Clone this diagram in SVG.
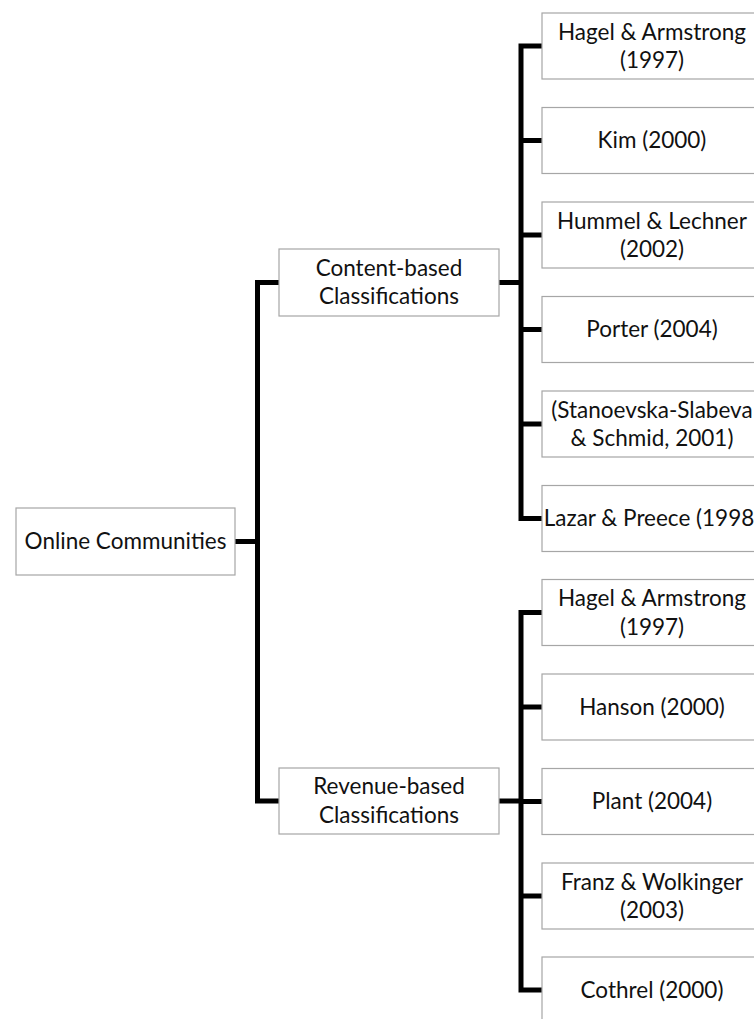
<svg xmlns="http://www.w3.org/2000/svg" width="754" height="1019" viewBox="0 0 754 1019">
  <style>
    .box { fill: #ffffff; stroke: #a6a6a6; stroke-width: 1.2; }
    .lbl { font-family: Lato, "Open Sans", "Liberation Sans", sans-serif; font-size: 22.5px; fill: #111111; text-anchor: middle; }
    .wire { fill: none; stroke: #000000; stroke-width: 5; stroke-linejoin: miter; stroke-linecap: butt; }
  </style>
  <rect width="754" height="1019" fill="#ffffff"/>

  <!-- connectors -->
  <g id="connectors">
    <!-- root to category spine -->
    <path class="wire" d="M235,541.5 H257.5"/>
    <path class="wire" d="M279,282.5 H257.5 V801 H279"/>
    <!-- content-based spine -->
    <path class="wire" d="M499,282.5 H521"/>
    <path class="wire" d="M542,46 H521 V518.5 H542"/>
    <path class="wire" d="M521,140.5 H542 M521,235 H542 M521,329.5 H542 M521,424 H542"/>
    <!-- revenue-based spine -->
    <path class="wire" d="M499,801 H521"/>
    <path class="wire" d="M542,612.5 H521 V990 H542"/>
    <path class="wire" d="M521,707 H542 M521,801.5 H542 M521,896 H542"/>
  </g>

  <!-- root -->
  <g id="online-communities">
    <rect class="box" x="16" y="508" width="219" height="67"/>
    <text class="lbl" x="125.5" y="549">Online Communities</text>
  </g>

  <!-- categories -->
  <g id="content-based">
    <rect class="box" x="279" y="249" width="220" height="67"/>
    <text class="lbl" x="389" y="275.5">Content-based</text>
    <text class="lbl" x="389" y="304">Classifications</text>
  </g>
  <g id="revenue-based">
    <rect class="box" x="279" y="768" width="220" height="66"/>
    <text class="lbl" x="389" y="794">Revenue-based</text>
    <text class="lbl" x="389" y="822.5">Classifications</text>
  </g>

  <!-- content-based references -->
  <g id="c-hagel">
    <rect class="box" x="542" y="13" width="220" height="66"/>
    <text class="lbl" x="652" y="39.5">Hagel &amp; Armstrong</text>
    <text class="lbl" x="652" y="68">(1997)</text>
  </g>
  <g id="c-kim">
    <rect class="box" x="542" y="107.5" width="220" height="66"/>
    <text class="lbl" x="652" y="148">Kim (2000)</text>
  </g>
  <g id="c-hummel">
    <rect class="box" x="542" y="202" width="220" height="66"/>
    <text class="lbl" x="652" y="228.5">Hummel &amp; Lechner</text>
    <text class="lbl" x="652" y="257">(2002)</text>
  </g>
  <g id="c-porter">
    <rect class="box" x="542" y="296.5" width="220" height="66"/>
    <text class="lbl" x="652" y="337">Porter (2004)</text>
  </g>
  <g id="c-stanoevska">
    <rect class="box" x="542" y="391" width="220" height="66"/>
    <text class="lbl" x="652" y="417.5">(Stanoevska-Slabeva</text>
    <text class="lbl" x="652" y="446">&amp; Schmid, 2001)</text>
  </g>
  <g id="c-lazar">
    <rect class="box" x="542" y="485.5" width="220" height="66"/>
    <text class="lbl" x="652" y="526">Lazar &amp; Preece (1998)</text>
  </g>

  <!-- revenue-based references -->
  <g id="r-hagel">
    <rect class="box" x="542" y="579.5" width="220" height="66"/>
    <text class="lbl" x="652" y="606">Hagel &amp; Armstrong</text>
    <text class="lbl" x="652" y="634.5">(1997)</text>
  </g>
  <g id="r-hanson">
    <rect class="box" x="542" y="674" width="220" height="66"/>
    <text class="lbl" x="652" y="714.5">Hanson (2000)</text>
  </g>
  <g id="r-plant">
    <rect class="box" x="542" y="768.5" width="220" height="66"/>
    <text class="lbl" x="652" y="809">Plant (2004)</text>
  </g>
  <g id="r-franz">
    <rect class="box" x="542" y="863" width="220" height="66"/>
    <text class="lbl" x="652" y="889.5">Franz &amp; Wolkinger</text>
    <text class="lbl" x="652" y="918">(2003)</text>
  </g>
  <g id="r-cothrel">
    <rect class="box" x="542" y="957" width="220" height="66"/>
    <text class="lbl" x="652" y="997.5">Cothrel (2000)</text>
  </g>
</svg>
